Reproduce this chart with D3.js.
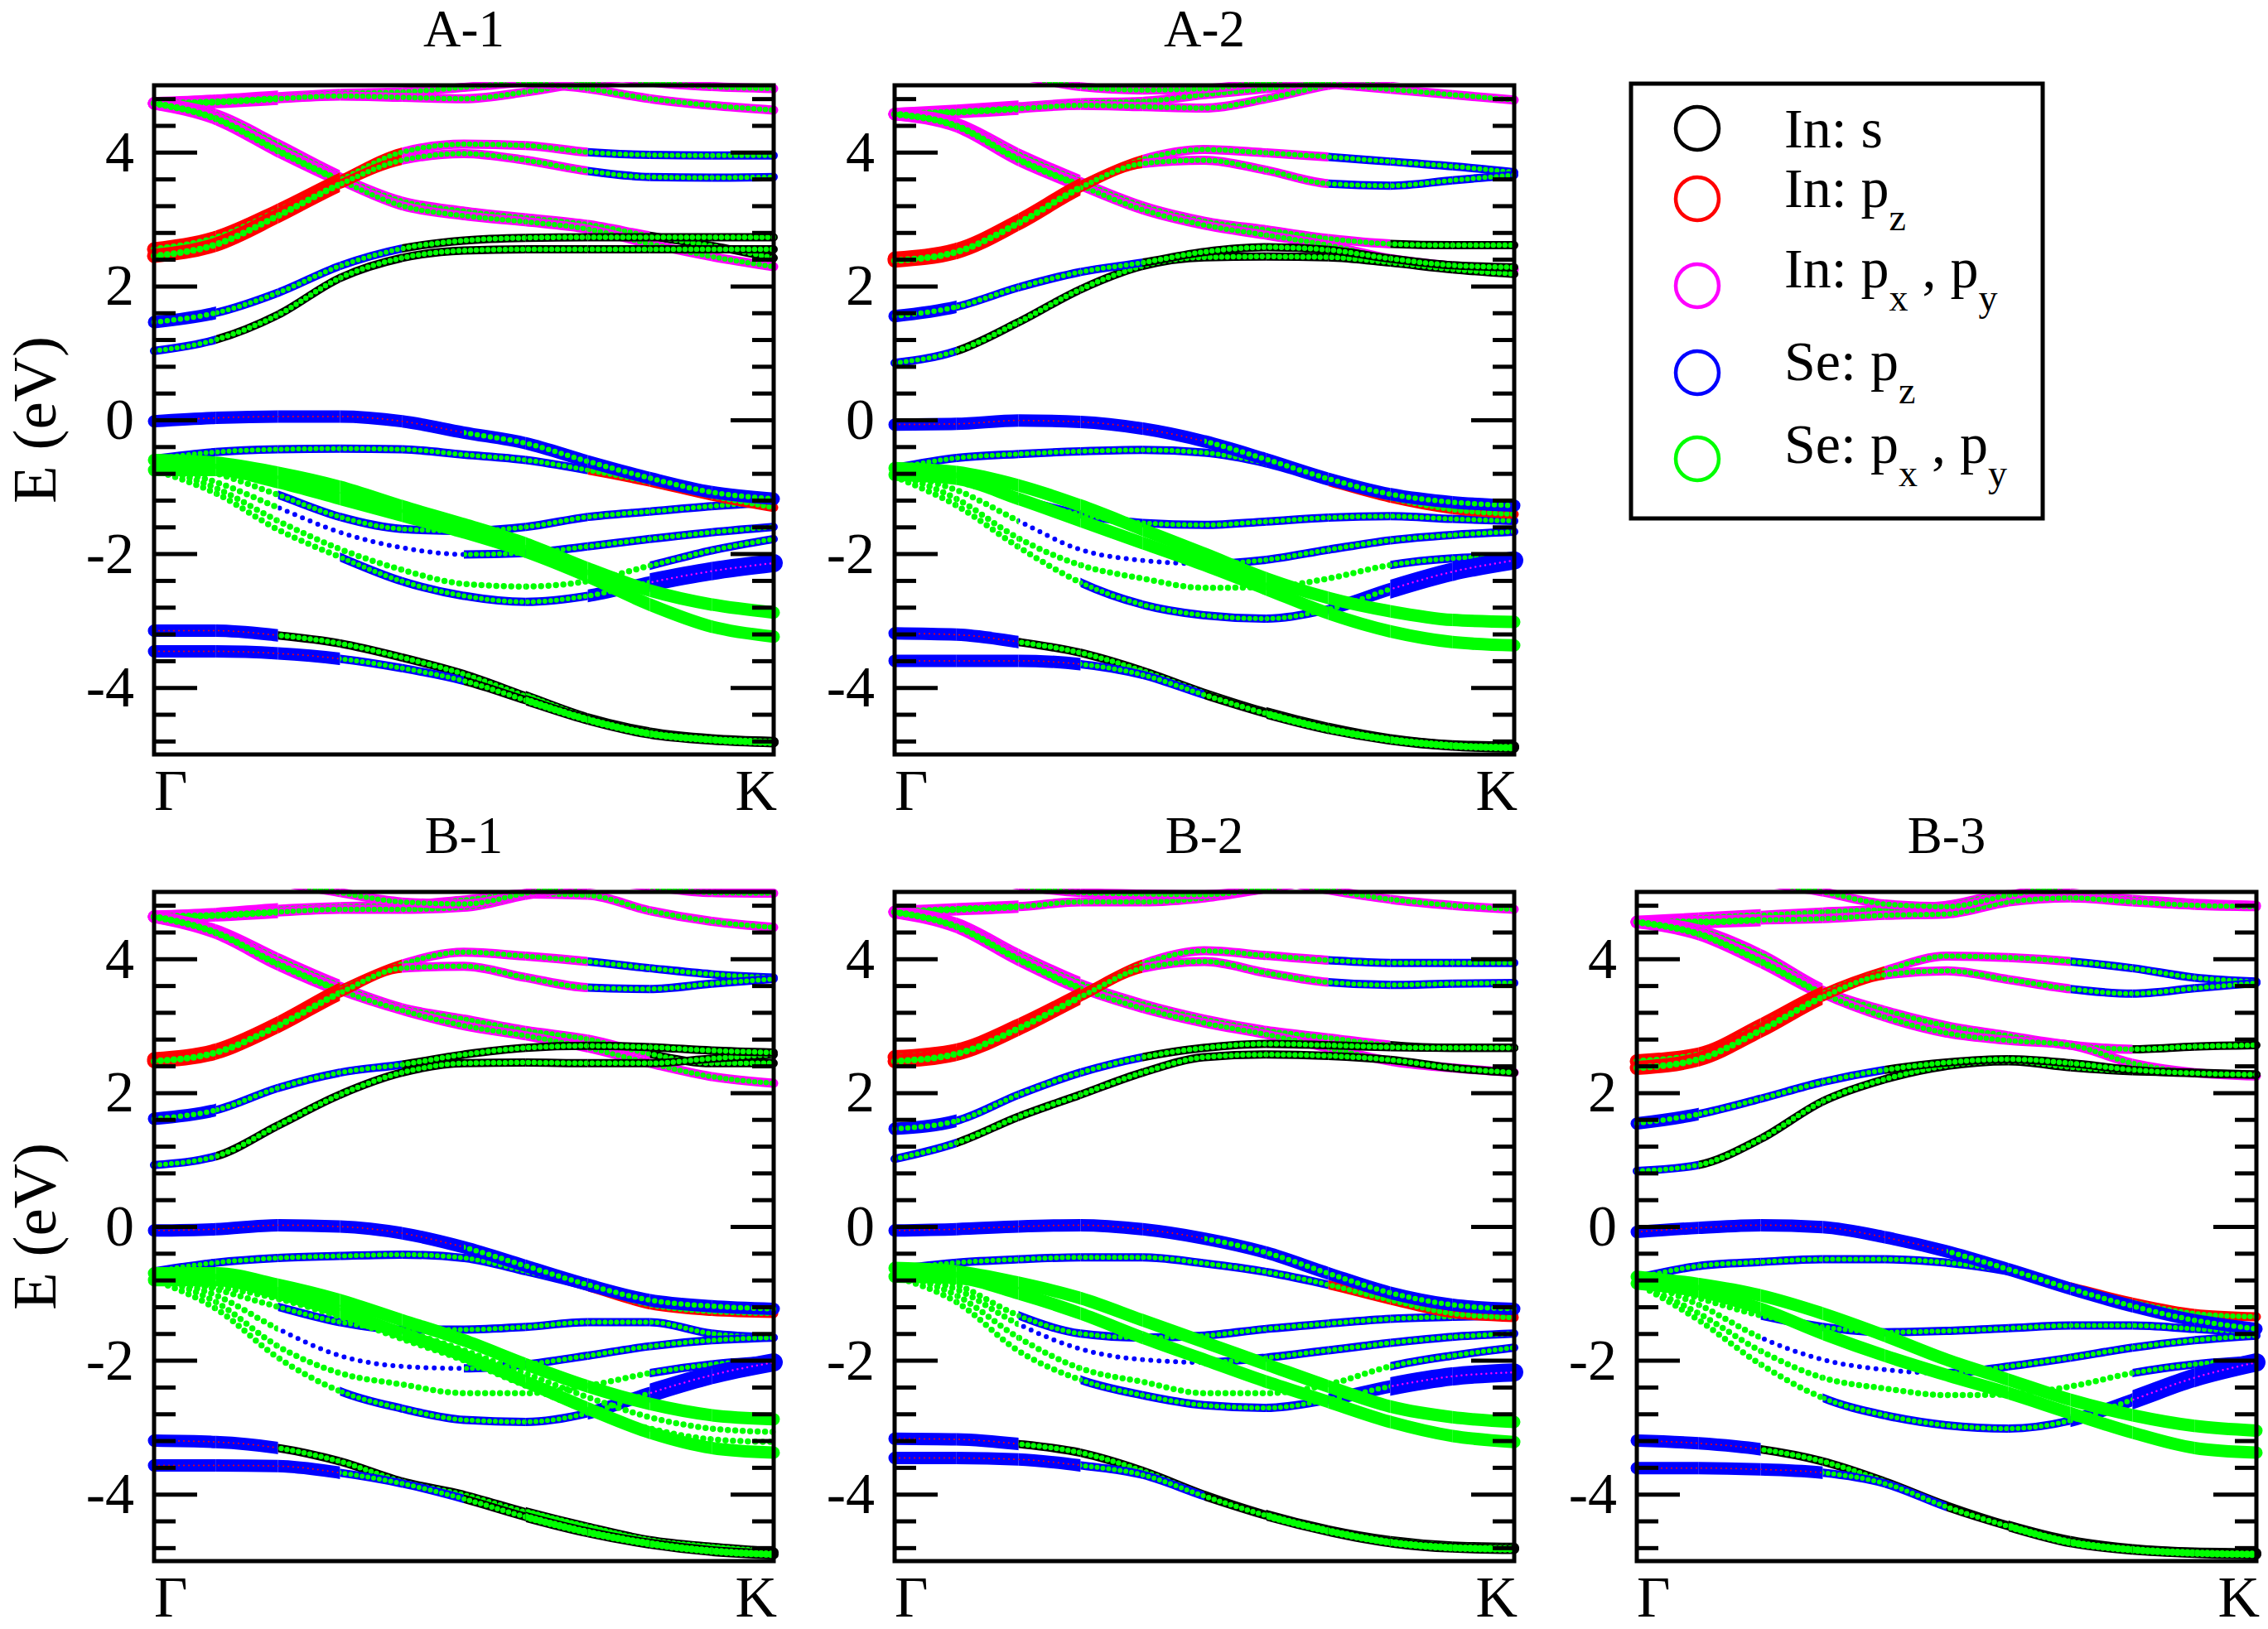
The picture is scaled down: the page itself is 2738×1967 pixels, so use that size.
<!DOCTYPE html>
<html>
<head>
<meta charset="utf-8">
<script src="https://cdn.jsdelivr.net/npm/d3@7"></script>
<style>
body { margin: 0; background: #fff; }
text { font-family: "Liberation Serif", "Times New Roman", serif; fill: #000; }
</style>
</head>
<body>
<svg id="chart" width="2738" height="1967"></svg>
<script>
// k path Gamma -> K, sampled at 11 points
var kGrid = [0, 0.1, 0.2, 0.3, 0.4, 0.5, 0.6, 0.7, 0.8, 0.9, 1.0];
var kLabels = ["\u0393", "K"];
var yMajor = [-4, -2, 0, 2, 4];
var panelTitles = ["A-1", "A-2", "B-1", "B-2", "B-3"];

// band order = draw order; one style code per k-interval
var bandNames = ["T1", "T2", "T3", "T4", "M1", "M2", "R1", "R2", "CB1", "CB2",
  "c", "d", "e", "f", "x1", "x2", "VB2", "VB1", "g", "h", "i", "j"];
var bandStyles = ["PPMMMMMMMM", "PPMMMMMMMM", "MMMMMMMMMM", "MMMMMMMMMM",
  "PPPMMMMMKK", "PPPMMMMMMM", "RRRrMMMbbb", "RRRrMMMbbb", "bKKKKKKKKK", "BbbbKKKKKK",
  "ggbbbbbbbb", "ggdddbbbbb", "ggggggggbb", "gggbbbbBFF", "gggggggggg", "gggggggggg",
  "bbbbbbbrrr", "nnnnnBBBBB", "GGGGGGGGGG", "GGGGGGGGGG", "nnKKKKLLLL", "nnnbbKLLLL"];

var bandsA1 = [
  [4.73, 4.77, 4.83, 4.88, 4.9, 4.97, 5.05, 5.15, 5.2, 5.2, 5.2],
  [4.73, 4.75, 4.8, 4.84, 4.82, 4.8, 4.9, 5.05, 5.15, 5.2, 5.2],
  [5.3, 5.3, 5.3, 5.3, 5.3, 5.25, 5.05, 4.95, 4.8, 4.7, 4.63],
  [5.3, 5.3, 5.3, 5.3, 5.3, 5.3, 5.3, 5.2, 5.05, 4.98, 4.95],
  [4.73, 4.55, 4.1, 3.63, 3.27, 3.12, 3.02, 2.92, 2.75, 2.6, 2.42],
  [4.73, 4.5, 4.02, 3.58, 3.2, 3.05, 2.96, 2.85, 2.63, 2.44, 2.29],
  [2.55, 2.72, 3.12, 3.58, 4.0, 4.12, 4.1, 4.0, 3.96, 3.95, 3.95],
  [2.45, 2.62, 3.05, 3.52, 3.88, 3.98, 3.88, 3.72, 3.63, 3.62, 3.63],
  [1.03, 1.2, 1.57, 2.12, 2.42, 2.53, 2.55, 2.55, 2.55, 2.55, 2.55],
  [1.46, 1.6, 1.9, 2.3, 2.56, 2.68, 2.72, 2.73, 2.73, 2.73, 2.73],
  [-0.6, -0.8, -1.12, -1.45, -1.63, -1.66, -1.6, -1.45, -1.37, -1.29, -1.23],
  [-0.7, -0.93, -1.31, -1.68, -1.91, -2.01, -1.99, -1.89, -1.78, -1.68, -1.6],
  [-0.7, -1.02, -1.51, -1.93, -2.24, -2.45, -2.49, -2.41, -2.18, -1.95, -1.78],
  [-0.75, -1.1, -1.64, -2.05, -2.41, -2.63, -2.72, -2.63, -2.43, -2.26, -2.14],
  null,
  null,
  [-0.58, -0.48, -0.44, -0.43, -0.44, -0.52, -0.6, -0.75, -0.93, -1.14, -1.31],
  [-0.02, 0.03, 0.05, 0.05, -0.02, -0.19, -0.35, -0.62, -0.87, -1.08, -1.18],
  [-0.6, -0.64, -0.79, -1.0, -1.29, -1.56, -1.85, -2.22, -2.55, -2.76, -2.88],
  [-0.75, -0.75, -0.93, -1.18, -1.43, -1.68, -1.97, -2.34, -2.76, -3.09, -3.24],
  [-3.15, -3.15, -3.22, -3.34, -3.55, -3.8, -4.13, -4.46, -4.67, -4.77, -4.81],
  [-3.46, -3.46, -3.49, -3.57, -3.71, -3.9, -4.19, -4.48, -4.69, -4.78, -4.82]
];

var bandsA2 = [
  [4.57, 4.62, 4.68, 4.74, 4.76, 4.86, 4.95, 5.05, 5.15, 5.2, 5.2],
  [4.57, 4.6, 4.65, 4.7, 4.68, 4.66, 4.8, 5.0, 5.1, 5.2, 5.2],
  [5.3, 5.3, 5.3, 5.3, 5.3, 5.2, 5.1, 5.02, 4.94, 4.86, 4.78],
  [5.3, 5.3, 5.15, 4.98, 4.93, 4.95, 5.05, 5.15, 5.2, 5.3, 5.3],
  [4.57, 4.42, 3.96, 3.56, 3.2, 2.97, 2.84, 2.71, 2.63, 2.61, 2.61],
  [4.57, 4.39, 3.89, 3.5, 3.14, 2.91, 2.76, 2.61, 2.41, 2.3, 2.25],
  [2.41, 2.54, 2.97, 3.5, 3.89, 4.04, 3.99, 3.93, 3.86, 3.79, 3.7],
  [2.38, 2.51, 2.94, 3.47, 3.83, 3.88, 3.73, 3.53, 3.5, 3.58, 3.66],
  [0.85, 1.03, 1.46, 1.95, 2.3, 2.43, 2.44, 2.43, 2.35, 2.25, 2.18],
  [1.55, 1.69, 1.98, 2.21, 2.35, 2.51, 2.58, 2.54, 2.41, 2.31, 2.28],
  [-0.75, -0.92, -1.18, -1.41, -1.54, -1.57, -1.52, -1.46, -1.44, -1.48, -1.51],
  [-0.8, -1.05, -1.51, -1.94, -2.1, -2.15, -2.09, -1.94, -1.8, -1.72, -1.67],
  [-0.8, -1.18, -1.77, -2.17, -2.37, -2.51, -2.5, -2.37, -2.17, -2.07, -2.04],
  [-0.85, -1.28, -1.9, -2.43, -2.76, -2.92, -2.97, -2.83, -2.53, -2.27, -2.1],
  null,
  null,
  [-0.72, -0.57, -0.51, -0.47, -0.45, -0.49, -0.65, -0.92, -1.17, -1.34, -1.41],
  [-0.07, -0.06, -0.01, -0.03, -0.13, -0.32, -0.59, -0.88, -1.11, -1.23, -1.28],
  [-0.72, -0.78, -0.98, -1.28, -1.64, -2.0, -2.37, -2.66, -2.86, -2.99, -3.02],
  [-0.82, -0.88, -1.18, -1.51, -1.84, -2.17, -2.53, -2.89, -3.16, -3.32, -3.37],
  [-3.19, -3.21, -3.32, -3.48, -3.75, -4.08, -4.37, -4.6, -4.77, -4.86, -4.88],
  [-3.6, -3.6, -3.6, -3.65, -3.81, -4.11, -4.39, -4.62, -4.78, -4.87, -4.9]
];

var bandsB1 = [
  [4.63, 4.67, 4.74, 4.78, 4.8, 4.88, 4.97, 4.95, 4.72, 4.56, 4.47],
  [4.63, 4.65, 4.7, 4.74, 4.74, 4.77, 4.95, 5.1, 5.2, 5.2, 5.2],
  [5.3, 5.3, 5.15, 4.99, 4.85, 4.82, 4.98, 5.15, 5.3, 5.3, 5.3],
  [5.3, 5.3, 5.3, 5.3, 5.3, 5.3, 5.3, 5.2, 5.08, 4.99, 4.98],
  [4.63, 4.42, 3.99, 3.59, 3.27, 3.1, 2.93, 2.8, 2.58, 2.44, 2.44],
  [4.63, 4.39, 3.92, 3.53, 3.23, 3.0, 2.85, 2.67, 2.44, 2.24, 2.14],
  [2.5, 2.63, 3.03, 3.53, 3.92, 4.1, 4.04, 3.96, 3.86, 3.77, 3.72],
  [2.47, 2.6, 3.0, 3.49, 3.86, 3.89, 3.72, 3.57, 3.55, 3.63, 3.7],
  [0.92, 1.05, 1.51, 1.97, 2.3, 2.44, 2.45, 2.44, 2.44, 2.51, 2.57],
  [1.61, 1.74, 2.07, 2.3, 2.42, 2.57, 2.67, 2.7, 2.68, 2.63, 2.6],
  [-0.7, -0.94, -1.2, -1.43, -1.54, -1.54, -1.5, -1.43, -1.43, -1.6, -1.66],
  [-0.75, -1.03, -1.53, -1.93, -2.09, -2.12, -2.06, -1.93, -1.79, -1.7, -1.66],
  [-0.75, -1.13, -1.79, -2.19, -2.36, -2.49, -2.49, -2.38, -2.19, -2.06, -1.99],
  [-0.8, -1.23, -1.96, -2.46, -2.72, -2.89, -2.92, -2.79, -2.49, -2.22, -2.03],
  [-0.75, -0.85, -1.0, -1.25, -1.55, -1.85, -2.2, -2.55, -2.85, -3.02, -3.07],
  [-0.8, -0.9, -1.08, -1.35, -1.68, -2.0, -2.38, -2.75, -3.02, -3.18, -3.22],
  [-0.67, -0.54, -0.47, -0.44, -0.42, -0.47, -0.67, -0.9, -1.17, -1.27, -1.3],
  [-0.06, -0.04, 0.02, 0.0, -0.1, -0.31, -0.59, -0.87, -1.1, -1.19, -1.23],
  [-0.7, -0.7, -0.87, -1.1, -1.4, -1.7, -2.06, -2.39, -2.65, -2.82, -2.88],
  [-0.8, -0.8, -1.0, -1.27, -1.6, -1.93, -2.32, -2.72, -3.08, -3.31, -3.38],
  [-3.2, -3.22, -3.31, -3.51, -3.81, -4.01, -4.27, -4.5, -4.7, -4.8, -4.87],
  [-3.57, -3.57, -3.58, -3.68, -3.84, -4.07, -4.34, -4.57, -4.74, -4.85, -4.9]
];

var bandsB2 = [
  [4.7, 4.74, 4.78, 4.85, 4.85, 4.91, 5.05, 5.2, 5.3, 5.3, 5.3],
  null,
  [5.3, 5.3, 5.1, 4.99, 4.97, 4.96, 5.05, 5.2, 5.3, 5.3, 5.3],
  [5.3, 5.3, 5.3, 5.3, 5.3, 5.3, 5.2, 5.03, 4.89, 4.8, 4.74],
  [4.7, 4.52, 4.05, 3.63, 3.33, 3.1, 2.93, 2.82, 2.71, 2.67, 2.67],
  [4.7, 4.48, 3.99, 3.56, 3.26, 3.04, 2.87, 2.67, 2.47, 2.37, 2.3],
  [2.53, 2.63, 3.0, 3.46, 3.92, 4.12, 4.05, 3.98, 3.94, 3.94, 3.94],
  [2.47, 2.58, 2.96, 3.43, 3.86, 3.96, 3.79, 3.65, 3.61, 3.63, 3.64],
  [1.01, 1.25, 1.64, 1.97, 2.3, 2.53, 2.57, 2.55, 2.49, 2.37, 2.3],
  [1.46, 1.58, 1.97, 2.3, 2.53, 2.67, 2.73, 2.71, 2.68, 2.67, 2.67],
  [-0.65, -0.87, -1.33, -1.6, -1.66, -1.63, -1.53, -1.45, -1.38, -1.35, -1.33],
  [-0.7, -0.94, -1.46, -1.83, -1.99, -2.03, -1.96, -1.85, -1.74, -1.65, -1.6],
  [-0.7, -1.03, -1.66, -2.12, -2.32, -2.49, -2.49, -2.36, -2.09, -1.93, -1.81],
  [-0.75, -1.13, -1.86, -2.29, -2.52, -2.67, -2.71, -2.59, -2.39, -2.24, -2.18],
  null,
  null,
  [-0.64, -0.54, -0.49, -0.46, -0.46, -0.55, -0.68, -0.87, -1.1, -1.3, -1.36],
  [-0.06, -0.04, 0.0, 0.02, -0.04, -0.18, -0.39, -0.7, -0.99, -1.17, -1.23],
  [-0.62, -0.67, -0.84, -1.07, -1.4, -1.73, -2.06, -2.39, -2.69, -2.85, -2.92],
  [-0.75, -0.77, -1.0, -1.3, -1.66, -1.99, -2.32, -2.62, -2.92, -3.13, -3.22],
  [-3.17, -3.18, -3.25, -3.38, -3.65, -4.01, -4.31, -4.54, -4.7, -4.78, -4.8],
  [-3.46, -3.46, -3.48, -3.57, -3.71, -4.03, -4.32, -4.55, -4.72, -4.8, -4.82]
];

var bandsB3 = [
  [4.55, 4.6, 4.65, 4.7, 4.74, 4.8, 4.96, 4.95, 4.89, 4.83, 4.8],
  [4.55, 4.55, 4.58, 4.6, 4.65, 4.67, 4.85, 4.91, 4.85, 4.8, 4.78],
  [5.3, 5.3, 5.15, 5.0, 4.82, 4.78, 4.95, 5.1, 5.2, 5.3, 5.3],
  null,
  [4.55, 4.42, 4.05, 3.53, 3.23, 3.0, 2.85, 2.71, 2.65, 2.69, 2.71],
  [4.55, 4.37, 3.96, 3.48, 3.13, 2.89, 2.78, 2.71, 2.44, 2.3, 2.25],
  [2.47, 2.57, 3.0, 3.48, 3.82, 4.04, 4.02, 3.96, 3.86, 3.72, 3.66],
  [2.37, 2.5, 2.93, 3.43, 3.76, 3.82, 3.69, 3.55, 3.48, 3.56, 3.64],
  [0.83, 0.92, 1.31, 1.87, 2.2, 2.4, 2.47, 2.38, 2.32, 2.3, 2.27],
  [1.54, 1.68, 1.91, 2.16, 2.34, 2.45, 2.5, 2.44, 2.34, 2.29, 2.27],
  [-0.8, -1.07, -1.33, -1.5, -1.58, -1.56, -1.52, -1.48, -1.48, -1.53, -1.58],
  [-0.8, -1.17, -1.66, -1.99, -2.14, -2.19, -2.09, -1.96, -1.81, -1.7, -1.63],
  [-0.85, -1.3, -1.86, -2.26, -2.42, -2.52, -2.51, -2.39, -2.19, -2.06, -1.99],
  [-0.85, -1.4, -2.06, -2.56, -2.82, -2.97, -3.02, -2.9, -2.59, -2.26, -2.03],
  null,
  null,
  [-0.77, -0.59, -0.53, -0.49, -0.49, -0.54, -0.67, -0.9, -1.13, -1.3, -1.35],
  [-0.08, -0.02, 0.02, -0.01, -0.16, -0.37, -0.64, -0.93, -1.19, -1.4, -1.53],
  [-0.75, -0.86, -1.03, -1.3, -1.63, -1.99, -2.29, -2.59, -2.82, -2.98, -3.05],
  [-0.85, -0.97, -1.23, -1.6, -1.93, -2.22, -2.49, -2.79, -3.08, -3.31, -3.38],
  [-3.2, -3.24, -3.33, -3.51, -3.81, -4.17, -4.47, -4.7, -4.82, -4.87, -4.88],
  [-3.61, -3.61, -3.63, -3.68, -3.84, -4.19, -4.48, -4.72, -4.83, -4.88, -4.9]
];

var panelBands = [bandsA1, bandsA2, bandsB1, bandsB2, bandsB3];

var legendColors = ["#000000", "#ff0000", "#ff00ff", "#0000ff", "#00ff00"];
// even entries normal text, odd entries subscripts
var legendLabels = [["In: s"], ["In: p", "z"], ["In: p", "x", " , p", "y"],
  ["Se: p", "z"], ["Se: p", "x", " , p", "y"]];

// fat-band look: outer ring colour + inner dots
var styleDefs = {
  b: { outer: "#0000ff", ow: 10, inner: "#00ff00", iw: 6, gap: 7 },
  B: { outer: "#0000ff", ow: 15, inner: "#00ff00", iw: 6.5, gap: 8 },
  n: { outer: "#0000ff", ow: 15, inner: "#ff0000", iw: 2, gap: 6 },
  F: { outer: "#0000ff", ow: 22, inner: "#ff00ff", iw: 2.5, gap: 6 },
  d: { outer: null, ow: 0, inner: "#0000ff", iw: 6, gap: 10 },
  g: { outer: null, ow: 0, inner: "#00ff00", iw: 7.5, gap: 9 },
  G: { outer: "#00ff00", ow: 15, inner: null, iw: 0, gap: 0 },
  K: { outer: "#000000", ow: 10, inner: "#00ff00", iw: 6.5, gap: 7 },
  L: { outer: "#000000", ow: 12, inner: "#00ff00", iw: 9, gap: 6 },
  R: { outer: "#ff0000", ow: 17, inner: "#00ff00", iw: 8, gap: 8 },
  r: { outer: "#ff0000", ow: 11, inner: "#00ff00", iw: 6.5, gap: 7 },
  M: { outer: "#ff00ff", ow: 11, inner: "#00ff00", iw: 6.5, gap: 7 },
  P: { outer: "#ff00ff", ow: 15, inner: "#00ff00", iw: 8.5, gap: 7 }
};

var W = 748, H = 808;
var colX = [186, 1080, 1976];
var rowY = [103, 1077];
var panelPos = [[0, 0], [1, 0], [0, 1], [1, 1], [2, 1]];

var svg = d3.select("#chart");
svg.append("rect").attr("width", 2738).attr("height", 1967).attr("fill", "#fff");
var defs = svg.append("defs");

var x = d3.scaleLinear().domain([0, 1]).range([0, W]);
var y = d3.scaleLinear().domain([-5, 5]).range([H, 0]);
var line = d3.line()
  .x(function (e, i) { return x(kGrid[i]); })
  .y(function (e) { return y(e); })
  .curve(d3.curveMonotoneX);

var yMinor = d3.range(-12, 13).map(function (i) { return +(i * 0.4).toFixed(1); })
  .filter(function (v) { return v % 2 !== 0; });

panelBands.forEach(function (bands, p) {
  var col = panelPos[p][0], row = panelPos[p][1];
  var g = svg.append("g")
    .attr("transform", "translate(" + colX[col] + "," + rowY[row] + ")");

  // one clip rect per k interval
  for (var i = 0; i < kGrid.length - 1; i++) {
    var x0 = x(kGrid[i]) - (i === 0 ? 14 : 0);
    var x1 = x(kGrid[i + 1]) + (i === kGrid.length - 2 ? 14 : 0);
    defs.append("clipPath").attr("id", "clip" + p + "_" + i)
      .append("rect")
      .attr("x", x0).attr("y", -4)
      .attr("width", x1 - x0).attr("height", H + 8);
  }

  var bandG = g.append("g").attr("class", "bands");
  bands.forEach(function (vals, b) {
    if (!vals) return;
    var d = line(vals);
    var codes = bandStyles[b];
    for (var i = 0; i < codes.length; i++) {
      var st = styleDefs[codes[i]];
      if (st.outer) {
        bandG.append("path").attr("d", d)
          .attr("clip-path", "url(#clip" + p + "_" + i + ")")
          .attr("fill", "none")
          .attr("stroke", st.outer)
          .attr("stroke-width", st.ow)
          .attr("stroke-linecap", "round");
      }
      if (st.inner) {
        bandG.append("path").attr("d", d)
          .attr("clip-path", "url(#clip" + p + "_" + i + ")")
          .attr("fill", "none")
          .attr("stroke", st.inner)
          .attr("stroke-width", st.iw)
          .attr("stroke-linecap", "round")
          .attr("stroke-dasharray", "0 " + st.gap);
      }
    }
  });

  // ticks, both sides pointing inwards
  var axL = g.append("g").call(d3.axisLeft(y).tickValues(yMajor).tickSize(-52).tickFormat(""));
  var axLm = g.append("g").call(d3.axisLeft(y).tickValues(yMinor).tickSize(-26).tickFormat(""));
  var axR = g.append("g").attr("transform", "translate(" + W + ",0)")
    .call(d3.axisRight(y).tickValues(yMajor).tickSize(-52).tickFormat(""));
  var axRm = g.append("g").attr("transform", "translate(" + W + ",0)")
    .call(d3.axisRight(y).tickValues(yMinor).tickSize(-26).tickFormat(""));
  [axL, axLm, axR, axRm].forEach(function (a) {
    a.select(".domain").remove();
    a.selectAll(".tick line").attr("stroke", "#000").attr("stroke-width", 5);
  });

  // tick labels
  var axLab = g.append("g").call(d3.axisLeft(y).tickValues(yMajor).tickSize(0).tickPadding(24)
    .tickFormat(function (v) { return v < 0 ? "-" + Math.abs(v) : String(v); }));
  axLab.select(".domain").remove();
  axLab.attr("font-family", null);
  axLab.selectAll("text")
    .style("font-family", "'Liberation Serif', 'Times New Roman', serif")
    .style("font-size", "70px").attr("fill", "#000");

  // frame
  g.append("rect").attr("x", 0).attr("y", 0).attr("width", W).attr("height", H)
    .attr("fill", "none").attr("stroke", "#000").attr("stroke-width", 5);

  g.append("text").attr("x", W / 2).attr("y", -47).attr("text-anchor", "middle")
    .style("font-size", "63px").text(panelTitles[p]);
  g.append("text").attr("x", 0).attr("y", H + 67)
    .style("font-size", "70px").text(kLabels[0]);
  g.append("text").attr("x", W + 4).attr("y", H + 67).attr("text-anchor", "end")
    .style("font-size", "70px").text(kLabels[1]);

  if (col === 0) {
    svg.append("text")
      .attr("transform", "translate(67," + (rowY[row] + H / 2) + ") rotate(-90)")
      .attr("text-anchor", "middle")
      .style("font-size", "75px").text("E (eV)");
  }
});

// legend
var leg = svg.append("g");
leg.append("rect").attr("x", 1969).attr("y", 101).attr("width", 497).attr("height", 525)
  .attr("fill", "#fff").attr("stroke", "#000").attr("stroke-width", 5);
var legCy = [155, 240, 345, 450, 554];
var legBase = [178, 250, 347, 459, 559];
legendLabels.forEach(function (parts, i) {
  leg.append("circle").attr("cx", 2049).attr("cy", legCy[i]).attr("r", 26)
    .attr("fill", "none").attr("stroke", legendColors[i]).attr("stroke-width", 4.5);
  var t = leg.append("text").attr("x", 2154).attr("y", legBase[i]).style("font-size", "68px");
  parts.forEach(function (s, j) {
    var sub = j % 2 === 1;
    t.append("tspan")
      .attr("dy", j === 0 ? 0 : (sub ? 28 : -28))
      .style("font-size", sub ? "46px" : "68px")
      .text(s);
  });
});
</script>
</body>
</html>
